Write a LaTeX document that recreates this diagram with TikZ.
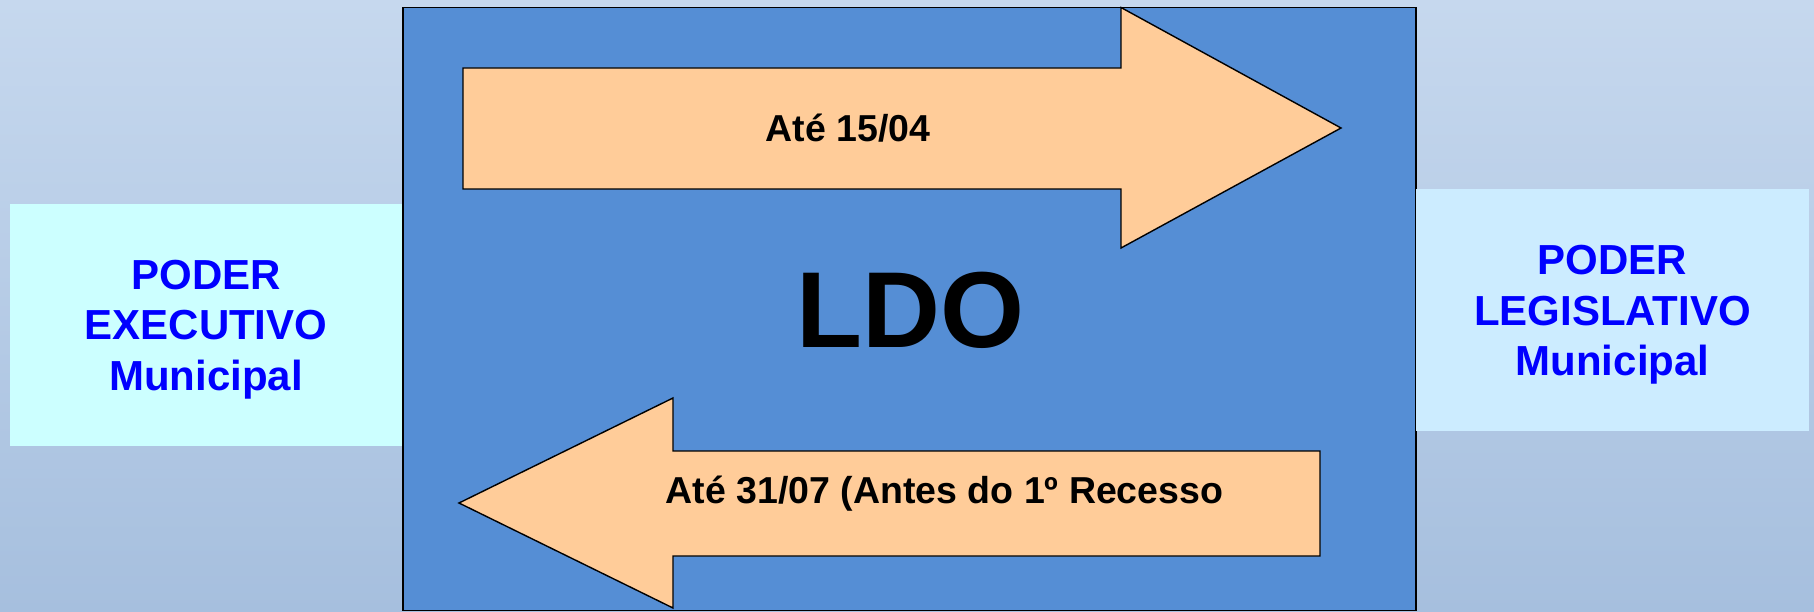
\documentclass[tikz,border=0pt]{standalone}
\usepackage{fontspec}
\setmainfont{Liberation Sans}
\usepackage{tikz}
\usetikzlibrary{calc}
\definecolor{fundotopo}{RGB}{198,216,238}
\definecolor{fundobase}{RGB}{166,191,222}
\definecolor{azulldo}{RGB}{85,142,213}
\definecolor{pessego}{RGB}{255,204,153}
\definecolor{cianoexe}{RGB}{204,255,255}
\definecolor{cianoleg}{RGB}{204,236,255}
\definecolor{azultexto}{RGB}{0,0,255}

\begin{document}
\begin{tikzpicture}[x=1pt,y=-1pt]
\tikzstyle{poder}=[rectangle,minimum width=393pt,minimum height=242pt,inner sep=0pt]
\tikzstyle{rotulo}=[inner sep=0pt,align=center,text=azultexto,font=\bfseries\fontsize{42}{50.5}\selectfont]
\tikzstyle{seta}=[draw=black,fill=pessego,line width=1.4pt,line join=miter]
\tikzstyle{prazo}=[inner sep=0pt,font=\bfseries\fontsize{37.5}{44}\selectfont]
\shade[top color=fundotopo,bottom color=fundobase] (0,0) rectangle (1814,612);
\useasboundingbox (0,0) rectangle (1814,612);
\node[draw=black,fill=azulldo,line width=1.3pt,minimum width=1013pt,minimum height=603pt,inner sep=0pt] (ldo) at (909.5,309) {};
\node[poder,fill=cianoexe,minimum width=392pt] (exe) at (206,325) {};
\node[poder,fill=cianoleg] (leg) at (1612.5,310) {};
\node[rotulo] (exetxt) at ($(exe.center)+(0,4.5)$) {PODER\\EXECUTIVO\\Municipal};
\node[rotulo] (legtxt) at ($(leg.center)+(0,5)$) {PODER\\LEGISLATIVO\\Municipal};
\draw[seta] (463,68) -- (1121,68) -- (1121,7.5) -- (1341,128) -- (1121,248) -- (1121,189) -- (463,189) -- cycle;
\draw[seta] (1320,451) -- (673,451) -- (673,398) -- (459,503) -- (673,608) -- (673,556) -- (1320,556) -- cycle;
\node[font=\bfseries\fontsize{108}{120}\selectfont,inner sep=0pt] (sigla) at (910.5,310) {LDO};
\node[prazo] (envio) at (848,128) {Até 15/04};
\node[prazo] (retorno) at (944.5,494) {Até 31/07 (Antes do 1º Recesso};
\end{tikzpicture}
\end{document}
